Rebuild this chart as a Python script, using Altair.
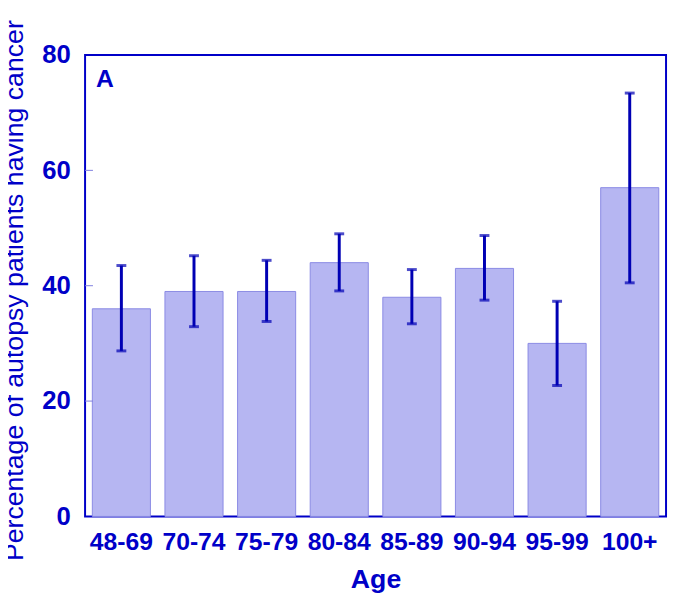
import altair as alt
import pandas as pd

ages = ["48-69", "70-74", "75-79", "80-84", "85-89", "90-94", "95-99", "100+"]
pct = [36.0, 39.0, 39.0, 44.0, 38.0, 43.0, 30.0, 57.0]
low = [28.7, 32.9, 33.8, 39.1, 33.4, 37.5, 22.7, 40.5]
high = [43.5, 45.2, 44.4, 49.0, 42.8, 48.7, 37.3, 73.4]
inner_ticks = [20, 40, 60]

BLUE = "#0000c8"
df = pd.DataFrame({"age": ages, "pct": pct, "low": low, "high": high})
tdf = pd.DataFrame({"t": inner_ticks})

x = alt.X("age:N", sort=ages, scale=alt.Scale(paddingInner=0.2, paddingOuter=0.1),
          axis=alt.Axis(title="Age", labelAngle=0, ticks=False, domain=False,
                        labelFont="Liberation Sans", labelFontWeight="bold", labelFontSize=25,
                        labelColor=BLUE, labelPadding=13,
                        titleFont="Liberation Sans", titleFontWeight="bold", titleFontSize=27,
                        titleColor=BLUE, titleBaseline="alphabetic", titleY=72))
yscale = alt.Scale(domain=[0, 80], nice=False)
yaxis = alt.Axis(title="Percentage of autopsy patients having cancer", values=[0, 20, 40, 60, 80],
                 ticks=False, domain=False, grid=False,
                 labelFont="Liberation Sans", labelFontWeight="bold", labelFontSize=26,
                 labelColor=BLUE, labelPadding=15,
                 titleFont="Liberation Sans", titleFontWeight="normal", titleFontSize=27,
                 titleColor=BLUE, titleX=-57, titleY=238, titleAngle=270, titleBaseline="bottom")

bars = alt.Chart(df).mark_bar(color="#b6b6f2", stroke="#8a8ae4", strokeWidth=1).encode(
    x=x, y=alt.Y("pct:Q", scale=yscale, axis=yaxis))

err = alt.Chart(df).mark_rule(color="#0000b4", strokeWidth=3).encode(
    x=alt.X("age:N", sort=ages), y="low:Q", y2="high:Q")
cap_lo = alt.Chart(df).mark_tick(color="#0000b4", size=10, thickness=3).encode(
    x=alt.X("age:N", sort=ages), y="low:Q")
cap_hi = alt.Chart(df).mark_tick(color="#0000b4", size=10, thickness=3).encode(
    x=alt.X("age:N", sort=ages), y="high:Q")

ticks = alt.Chart(tdf).mark_rule(color="#8080e0", strokeWidth=1).encode(
    y=alt.Y("t:Q", scale=yscale), x=alt.value(0), x2=alt.value(8))

label = alt.Chart(pd.DataFrame({"txt": ["A"]})).mark_text(
    font="Liberation Sans", fontWeight="bold", fontSize=25, color=BLUE,
    align="left", baseline="alphabetic").encode(
    text="txt:N", x=alt.value(11), y=alt.value(32))

chart = alt.layer(bars, err, cap_lo, cap_hi, ticks, label).properties(
    width=588, height=467,
    background="white",
    autosize=alt.AutoSizeParams(type="none"),
    padding={"left": 78, "top": 44, "right": 3, "bottom": 80},
).configure_view(stroke=BLUE, strokeWidth=2)

chart.save("out.html", embed_options={"renderer": "svg", "actions": False})
